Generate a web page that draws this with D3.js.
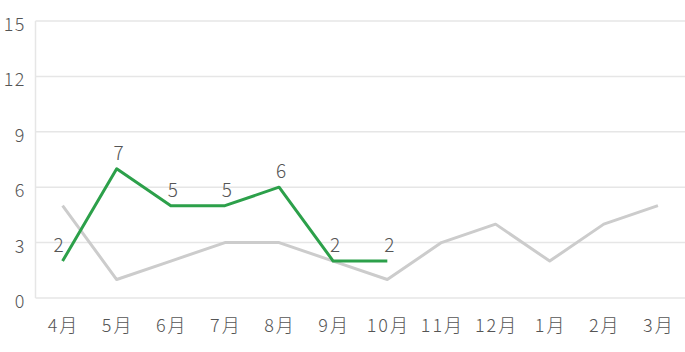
<!DOCTYPE html>
<html>
<head>
<meta charset="utf-8">
<script src="https://cdn.jsdelivr.net/npm/d3@7"></script>
<style>
    body { margin: 0; background: #fff; }
    text { font-family: "Noto Sans CJK JP", "Noto Sans", sans-serif; fill: #555; font-weight: 300; }
</style>
</head>
<body>
<svg id="chart" width="685" height="352"></svg>
<script>
var months = ["4月", "5月", "6月", "7月", "8月", "9月", "10月", "11月", "12月", "1月", "2月", "3月"]
var lastYear = [5, 1, 2, 3, 3, 2, 1, 3, 4, 2, 4, 5]
var thisYear = [2, 7, 5, 5, 6, 2, 2]
var yTicks = [0, 3, 6, 9, 12, 15]

var svg = d3.select("#chart");
var plotLeft = 35.5, plotRight = 685, plotTop = 21, plotBottom = 298;

var x = d3.scalePoint()
    .domain(months)
    .range([plotLeft, plotRight])
    .padding(0.5);

var y = d3.scaleLinear()
    .domain([0, 15])
    .range([plotBottom, plotTop]);

// grid lines
svg.append("g")
    .selectAll("line")
    .data(yTicks)
    .enter().append("line")
    .attr("x1", plotLeft)
    .attr("x2", plotRight)
    .attr("y1", function (d) { return y(d) })
    .attr("y2", function (d) { return y(d) })
    .attr("stroke", "#e6e6e6")
    .attr("stroke-width", 1.5);

svg.append("line")
    .attr("x1", plotLeft).attr("x2", plotLeft)
    .attr("y1", plotTop).attr("y2", plotBottom)
    .attr("stroke", "#e6e6e6")
    .attr("stroke-width", 1.5);

// y labels
svg.append("g")
    .selectAll("text")
    .data(yTicks)
    .enter().append("text")
    .attr("x", 26)
    .attr("y", function (d) { return y(d) + 10 })
    .attr("text-anchor", "end")
    .attr("font-size", "18px")
    .attr("letter-spacing", "1.5px")
    .text(function (d) { return d });

// x labels
svg.append("g")
    .selectAll("text")
    .data(months)
    .enter().append("text")
    .attr("x", function (d) { return x(d) + 1 })
    .attr("y", 332)
    .attr("text-anchor", "middle")
    .attr("font-size", "18px")
    .attr("letter-spacing", "2px")
    .text(function (d) { return d });

var line = d3.line()
    .x(function (d, i) { return x(months[i]) })
    .y(function (d) { return y(d) });

svg.append("path")
    .datum(lastYear)
    .attr("d", line)
    .attr("fill", "none")
    .attr("stroke", "#cccccc")
    .attr("stroke-width", 3)
    .attr("stroke-linejoin", "round");

svg.append("path")
    .datum(thisYear)
    .attr("d", line)
    .attr("fill", "none")
    .attr("stroke", "#2ca04a")
    .attr("stroke-width", 3)
    .attr("stroke-linejoin", "round");

svg.append("g")
    .selectAll("text")
    .data(thisYear)
    .enter().append("text")
    .attr("x", function (d, i) { return x(months[i]) + (i == 0 ? -4 : 2) })
    .attr("y", function (d) { return y(d) - 9 })
    .attr("text-anchor", "middle")
    .attr("font-size", "19px")
    .text(function (d) { return d });
</script>
</body>
</html>
